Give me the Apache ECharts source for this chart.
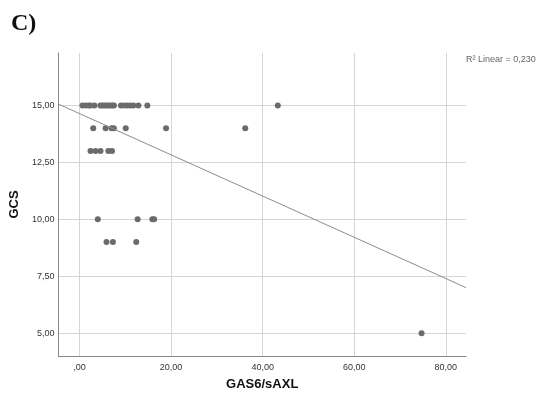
<!DOCTYPE html>
<html lang="en">
<head>
<meta charset="UTF-8">
<title>GCS vs GAS6/sAXL</title>
<script src="https://cdn.jsdelivr.net/npm/echarts@6/dist/echarts.min.js"></script>
<style>
    html, body { margin: 0; padding: 0; background: #fff; }
    #main { width: 538px; height: 396px; }
</style>
</head>
<body>
<div id="main"></div>
<script>
    // GAS6/sAXL values, grouped by GCS score
    var gas15 = [0.65, 1.31, 1.96, 2.4, 3.27, 4.58, 5.01, 5.45, 5.89, 6.32, 6.76, 7.19, 7.52,
                 9.05, 9.81, 10.46, 11.12, 11.77, 12.86, 14.82, 43.3];
    var gas14 = [3.0, 5.7, 7.0, 7.5, 10.1, 18.9, 36.2];
    var gas13 = [2.4, 3.5, 4.6, 6.3, 7.1];
    var gas10 = [4.0, 12.7, 15.9, 16.3];
    var gas9 = [5.9, 7.3, 12.4];
    var gas5 = [74.7];
    var gcsLevels = [15, 14, 13, 10, 9, 5];
    var gasGroups = [gas15, gas14, gas13, gas10, gas9, gas5];

    // linear fit as printed on the chart
    var fitIntercept = 14.64;
    var fitSlope = -0.0905;
    var r2Text = 'R\u00b2 Linear = 0,230';

    var xTicks = [0, 20, 40, 60, 80];
    var xTickLabels = [',00', '20,00', '40,00', '60,00', '80,00'];
    var yTicks = [5, 7.5, 10, 12.5, 15];
    var yTickLabels = ['5,00', '7,50', '10,00', '12,50', '15,00'];
    var xMin = -4.6, xMax = 84.4;
    var yMin = 4, yMax = 17.3;

    var points = [];
    gasGroups.forEach(function (g, i) {
        g.forEach(function (x) { points.push([x, gcsLevels[i]]); });
    });
    var fitLine = [xMin, xMax].map(function (x) { return [x, fitIntercept + fitSlope * x]; });

    var chart = echarts.init(document.getElementById('main'));
    var option = {
        animation: false,
        textStyle: { fontFamily: 'Liberation Sans' },
        title: {
            text: 'C)',
            left: 6, top: 7,
            textStyle: { fontFamily: 'Liberation Serif', fontWeight: 'bold', fontSize: 24, color: '#111' }
        },
        graphic: [{
            type: 'text',
            left: 466, top: 55,
            style: { text: r2Text, fontSize: 9, fill: '#666', fontFamily: 'Liberation Sans' }
        }],
        grid: { left: 58, right: 72, top: 53, bottom: 39 },
        xAxis: {
            type: 'value',
            min: xMin, max: xMax,
            name: 'GAS6/sAXL',
            nameLocation: 'middle',
            nameGap: 22,
            nameTextStyle: { fontWeight: 'bold', fontSize: 13, color: '#111' },
            axisLine: { show: true, onZero: false, lineStyle: { color: '#888' } },
            axisTick: { show: false, customValues: xTicks },
            axisLabel: {
                customValues: xTicks, margin: 7, fontSize: 9, color: '#333',
                formatter: function (v) { return xTickLabels[xTicks.indexOf(v)]; }
            },
            splitLine: { show: true, lineStyle: { color: '#d6d6d6' } }
        },
        yAxis: {
            type: 'value',
            min: yMin, max: yMax,
            name: 'GCS',
            nameLocation: 'middle',
            nameGap: 31,
            nameTextStyle: { fontWeight: 'bold', fontSize: 13, color: '#111' },
            axisLine: { show: true, onZero: false, lineStyle: { color: '#888' } },
            axisTick: { show: false, customValues: yTicks },
            axisLabel: {
                customValues: yTicks, margin: 4, fontSize: 9, color: '#333',
                formatter: function (v) { return yTickLabels[yTicks.indexOf(v)]; }
            },
            splitLine: { show: true, lineStyle: { color: '#d6d6d6' } }
        },
        series: [
            {
                type: 'line',
                data: fitLine,
                symbol: 'none',
                silent: true,
                lineStyle: { color: '#8c8c8c', width: 1 }
            },
            {
                type: 'scatter',
                data: points,
                symbolSize: 6,
                itemStyle: { color: '#6b6b6b', opacity: 1 }
            }
        ]
    };
    chart.setOption(option);
</script>
</body>
</html>
